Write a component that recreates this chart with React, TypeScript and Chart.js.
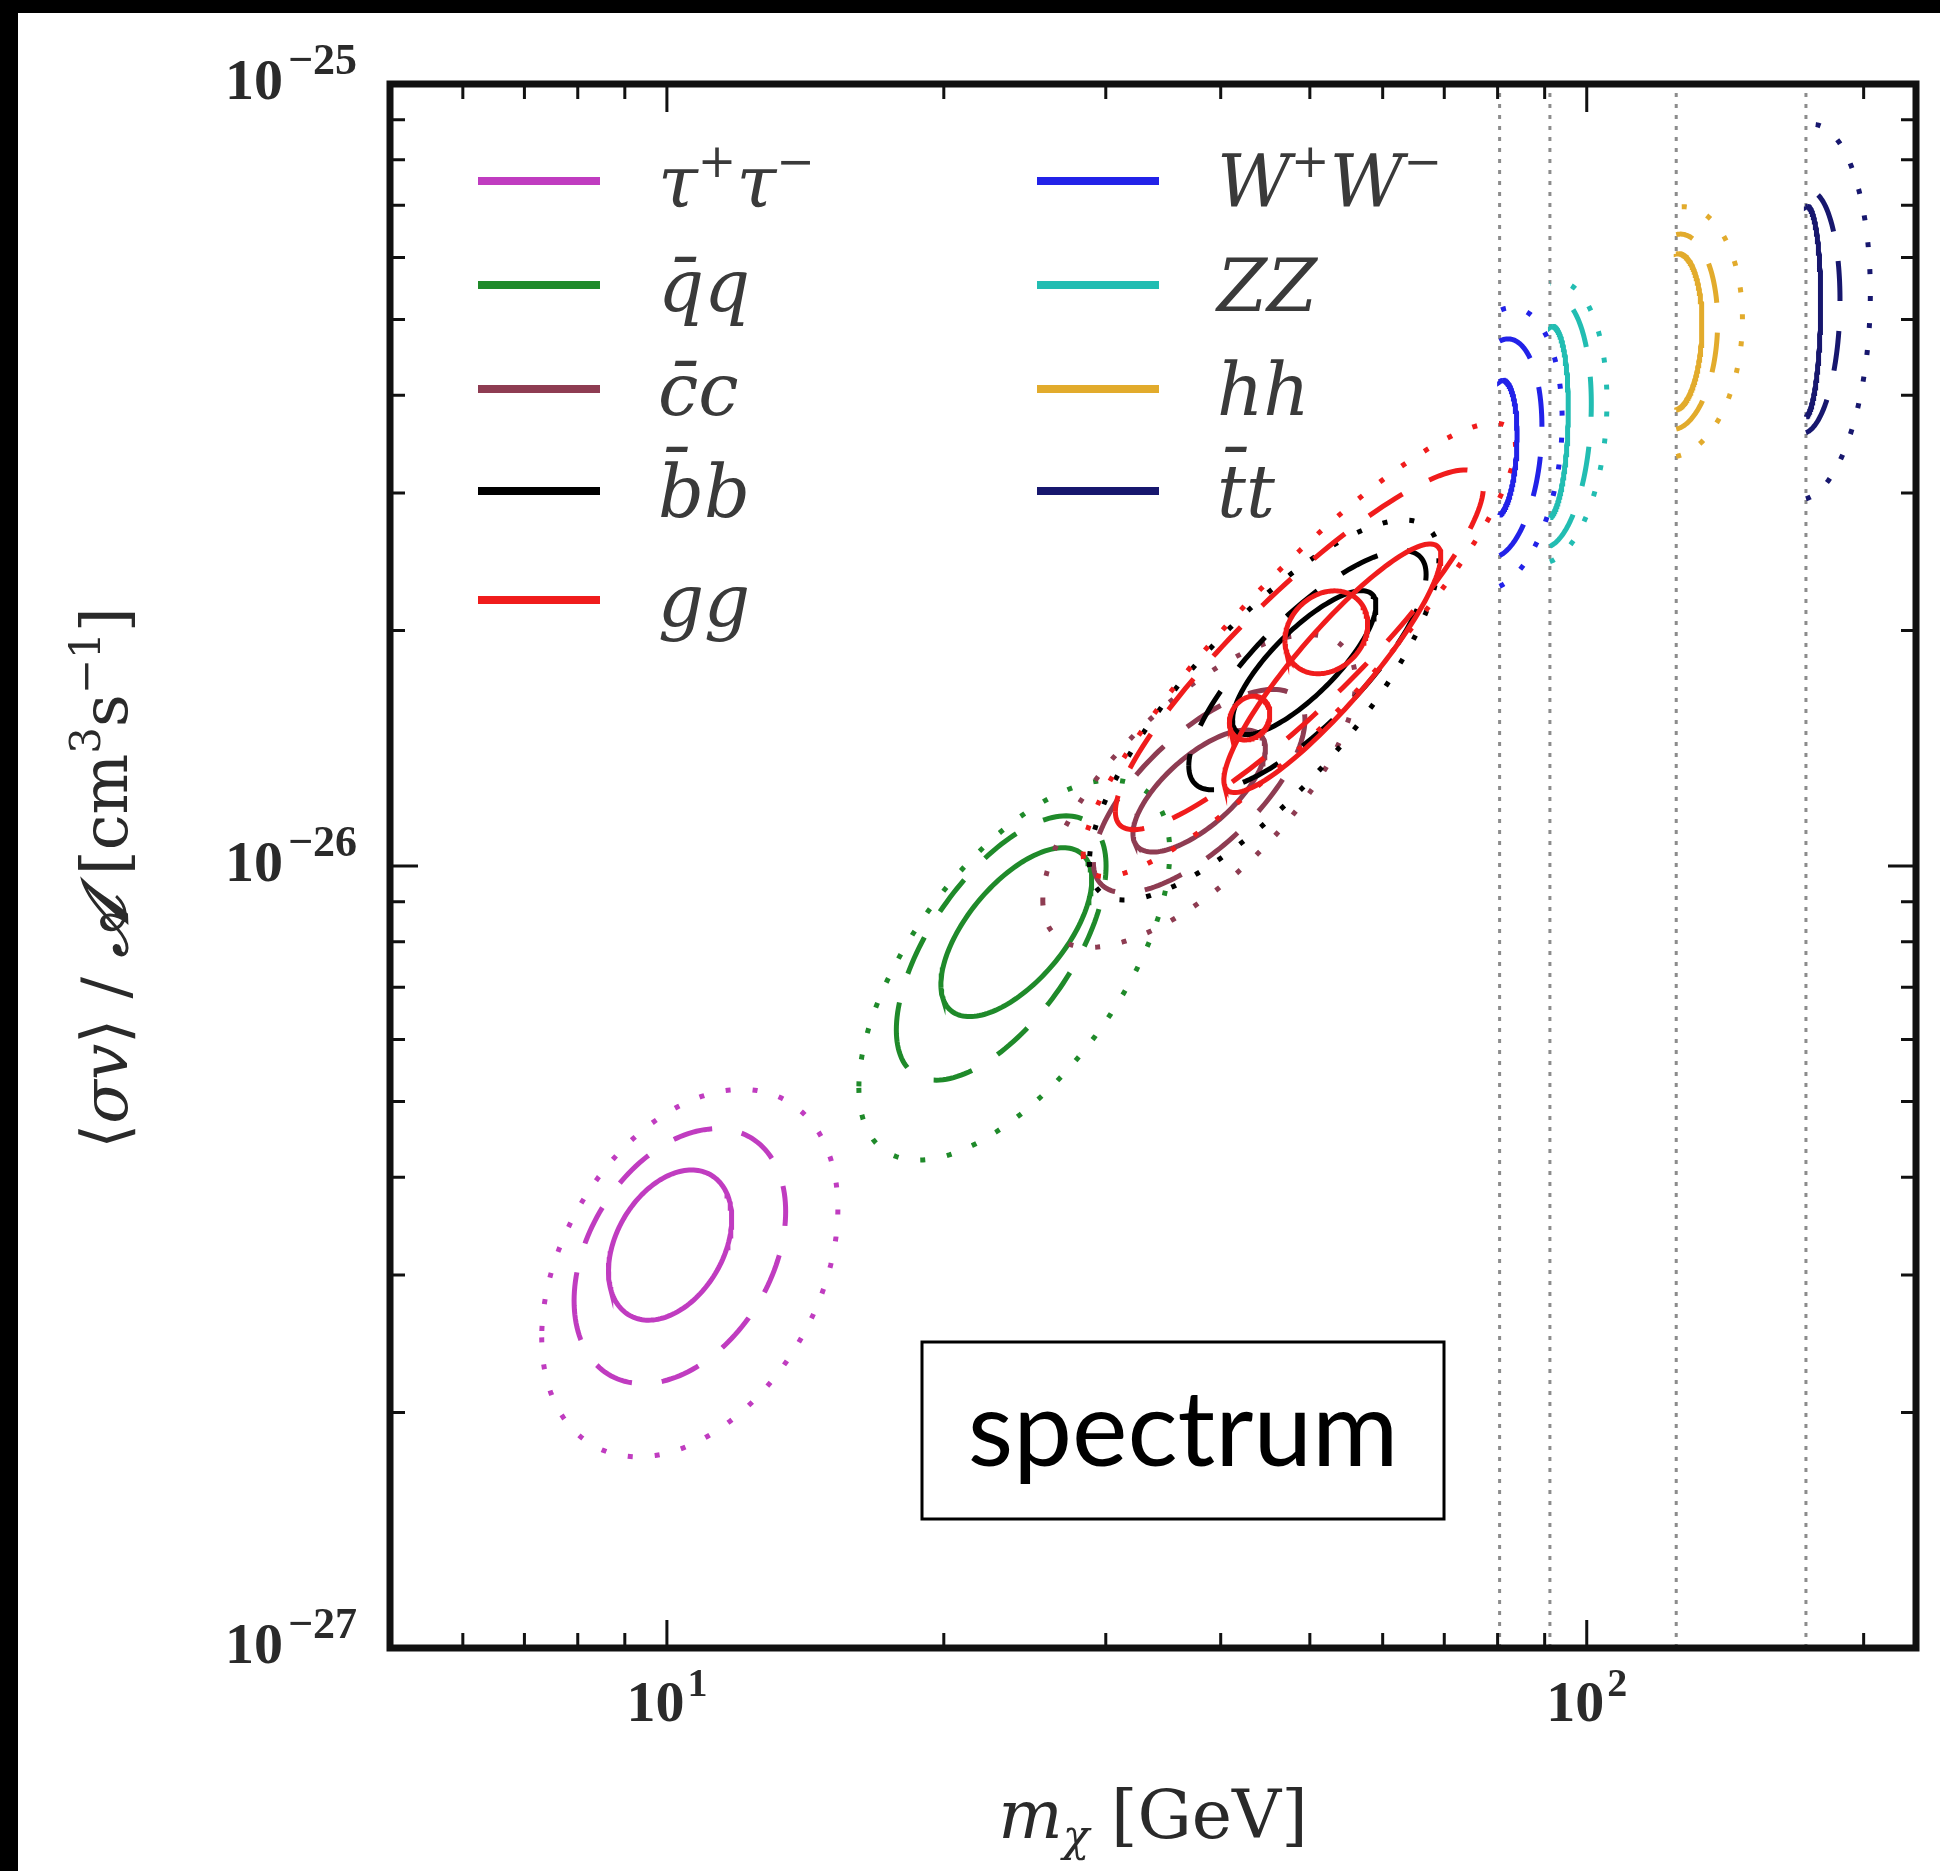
import React, { useEffect, useRef } from 'react';
import { Chart, registerables } from 'chart.js';

Chart.register(...registerables);

// ---------------- data ----------------
const channelLabels = ['τ⁺τ⁻', 'q\u0304q', 'c\u0304c', 'b\u0304b', 'gg', 'W⁺W⁻', 'ZZ', 'hh', 't\u0304t'];
const channelColors = ['#c03cc0', '#1f8a2a', '#8e3c52', '#000000', '#f01c1c', '#2222e8', '#22bdb2', '#e2ab2c', '#17176e'];
// kinematic threshold (GeV); 0 = none
const thresholdMass = [0, 0, 0, 0, 0, 80.4, 91.19, 125.1, 173.1];
// contour centres for the 1σ / 2σ / 3σ levels
const centerMass = [
  [10.08, 10.33, 10.59],
  [23.98, 23.09, 23.86],
  [37.9, 37.9, 37.9],
  [49.3, 49.7, 44.6],
  [52.9, 48.7, 48.7],
  [80.4, 80.4, 80.4],
  [91.19, 91.19, 91.19],
  [125.1, 125.1, 125.1],
  [173.1, 173.1, 173.1],
];
const centerSigmaV = [
  [3.275e-27, 3.17e-27, 3.016e-27],
  [8.23e-27, 7.855e-27, 7.36e-27],
  [1.247e-26, 1.247e-26, 1.247e-26],
  [1.82e-26, 1.78e-26, 1.583e-26],
  [1.79e-26, 1.89e-26, 1.89e-26],
  [3.42e-26, 3.42e-26, 3.42e-26],
  [3.69e-26, 3.69e-26, 3.69e-26],
  [4.82e-26, 4.82e-26, 4.82e-26],
  [5.11e-26, 5.11e-26, 5.11e-26],
];
// half extents of the 1σ / 2σ / 3σ contours (decades of mass, decades of <σv>)
const halfWidthDex = [
  [0.067, 0.115, 0.161],
  [0.082, 0.114, 0.169],
  [0.072, 0.115, 0.17],
  [0.078, 0.129, 0.19],
  [0.118, 0.2, 0.235],
  [0.019, 0.046, 0.068],
  [0.02, 0.045, 0.062],
  [0.028, 0.045, 0.072],
  [0.016, 0.037, 0.07],
];
const halfHeightDex = [
  [0.096, 0.163, 0.235],
  [0.108, 0.169, 0.243],
  [0.078, 0.13, 0.2],
  [0.092, 0.153, 0.243],
  [0.159, 0.23, 0.29],
  [0.087, 0.14, 0.18],
  [0.123, 0.16, 0.18],
  [0.1, 0.125, 0.16],
  [0.135, 0.155, 0.24],
];
const correlation = [0.35, 0.62, 0.7, 0.8, 0.9, 0.2, 0.15, 0.1, 0.1];
// extra small 1σ islands
const islandChannel = [4, 4];
const islandMass = [52.1, 43.0];
const islandSigmaV = [1.99e-26, 1.546e-26];
const islandHalfWidthDex = [0.045, 0.022];
const islandHalfHeightDex = [0.053, 0.028];

// axes
const xMin = 5;
const xMax = 228;
const yMin = 1e-27;
const yMax = 1e-25;
const xMajorTicks = [10, 100];
const xMajorExponents = ['1', '2'];
const xMinorTicks = [5, 6, 7, 8, 9, 20, 30, 40, 50, 60, 70, 80, 90, 200];
const yMajorTicks = [1e-27, 1e-26, 1e-25];
const yMajorExponents = ['−27', '−26', '−25'];
const yMinorTicks = [2e-27, 3e-27, 4e-27, 5e-27, 6e-27, 7e-27, 8e-27, 9e-27, 2e-26, 3e-26, 4e-26, 5e-26, 6e-26, 7e-26, 8e-26, 9e-26];

const levelDash = [[], [40, 30], [5, 22]];

// -------------- helpers --------------
function ellipsePoints(cm: number, cs: number, dx: number, dy: number, r: number, thr: number) {
  const cx = Math.log10(cm);
  const cy = Math.log10(cs);
  const s = Math.sqrt(1 - r * r);
  let t0 = -Math.PI;
  let t1 = Math.PI;
  if (thr > 0) {
    const c = (Math.log10(thr) - cx) / dx;
    if (c > -1) {
      const tc = Math.acos(Math.min(1, c));
      t0 = -tc;
      t1 = tc;
    }
  }
  const n = 160;
  const pts: { x: number; y: number }[] = [];
  for (let k = 0; k <= n; k++) {
    const t = t0 + ((t1 - t0) * k) / n;
    const lx = cx + dx * Math.cos(t);
    const ly = cy + dy * (r * Math.cos(t) + s * Math.sin(t));
    pts.push({ x: Math.pow(10, lx), y: Math.pow(10, ly) });
  }
  return pts;
}

type Seg = { text: string; font: string; dy: number; gap?: number };

function drawSegs(ctx: CanvasRenderingContext2D, segs: Seg[], x: number, y: number, align: string) {
  let total = 0;
  const widths = segs.map((s) => {
    ctx.font = s.font;
    const w = ctx.measureText(s.text).width + (s.gap || 0);
    total += w;
    return w;
  });
  let cx = align === 'center' ? x - total / 2 : align === 'right' ? x - total : x;
  ctx.textAlign = 'left';
  ctx.textBaseline = 'alphabetic';
  segs.forEach((s, i) => {
    ctx.font = s.font;
    ctx.fillText(s.text, cx + (s.gap || 0), y + s.dy);
    cx += widths[i];
  });
  return total;
}

const supMap: Record<string, string> = { '⁺': '+', '⁻': '−', '¹': '1', '²': '2', '³': '3' };

function labelSegs(label: string, baseFont: string, supFont: string, supDy: number): Seg[] {
  const segs: Seg[] = [];
  for (const ch of Array.from(label)) {
    const isSup = ch in supMap;
    const text = isSup ? supMap[ch] : ch;
    const font = isSup ? supFont : baseFont;
    const dy = isSup ? supDy : 0;
    const last = segs[segs.length - 1];
    if (last && last.font === font && last.dy === dy) last.text += text;
    else segs.push({ text, font, dy });
  }
  return segs;
}

const SERIF = '"DejaVu Serif", "Liberation Serif", serif';
const TICKFONT = '"Liberation Serif", "DejaVu Serif", serif';

const decorPlugin = {
  id: 'decor',
  afterDatasetsDraw(chart: any) {
    const ctx: CanvasRenderingContext2D = chart.ctx;
    const { left, right, top, bottom } = chart.chartArea;
    const xs = chart.scales.x;
    const ys = chart.scales.y;
    ctx.save();
    ctx.strokeStyle = '#111';
    const tick = (v: number, len: number, horiz: boolean, lw: number) => {
      ctx.lineWidth = lw;
      ctx.beginPath();
      if (horiz) {
        const p = xs.getPixelForValue(v);
        ctx.moveTo(p, bottom);
        ctx.lineTo(p, bottom - len);
        ctx.moveTo(p, top);
        ctx.lineTo(p, top + len);
      } else {
        const p = ys.getPixelForValue(v);
        ctx.moveTo(left, p);
        ctx.lineTo(left + len, p);
        ctx.moveTo(right, p);
        ctx.lineTo(right - len, p);
      }
      ctx.stroke();
    };
    xMinorTicks.forEach((v) => tick(v, 15, true, 3));
    xMajorTicks.forEach((v) => tick(v, 28, true, 3));
    yMinorTicks.forEach((v) => tick(v, 15, false, 3));
    yMajorTicks.forEach((v) => tick(v, 28, false, 3));
    ctx.lineWidth = 7;
    ctx.strokeRect(left, top, right - left, bottom - top);
    ctx.restore();
  },
  afterDraw(chart: any) {
    const ctx: CanvasRenderingContext2D = chart.ctx;
    const { left, right, top, bottom } = chart.chartArea;
    const xs = chart.scales.x;
    const ys = chart.scales.y;
    ctx.save();
    ctx.fillStyle = '#2a2a2a';
    // tick labels
    xMajorTicks.forEach((v, i) => {
      const p = xs.getPixelForValue(v);
      drawSegs(
        ctx,
        [
          { text: '10', font: `bold 58px ${TICKFONT}`, dy: 0 },
          { text: xMajorExponents[i], font: `bold 40px ${TICKFONT}`, dy: -25, gap: 3 },
        ],
        p,
        bottom + 73,
        'center'
      );
    });
    yMajorTicks.forEach((v, i) => {
      const p = ys.getPixelForValue(v);
      drawSegs(
        ctx,
        [
          { text: '10', font: `bold 58px ${TICKFONT}`, dy: 0 },
          { text: yMajorExponents[i], font: `bold 44px ${TICKFONT}`, dy: -25, gap: 5 },
        ],
        left - 33,
        p + 15,
        'right'
      );
    });
    // x title
    drawSegs(
      ctx,
      [
        { text: 'm', font: `italic 68px ${SERIF}`, dy: 0 },
        { text: 'χ', font: `italic 44px ${SERIF}`, dy: 13 },
        { text: ' [GeV]', font: `68px ${SERIF}`, dy: 0 },
      ],
      (left + right) / 2,
      bottom + 190,
      'center'
    );
    // y title (rotated)
    ctx.save();
    ctx.translate(87, (top + bottom) / 2 + 12);
    ctx.rotate(-Math.PI / 2);
    drawSegs(
      ctx,
      [
        { text: '⟨', font: `64px ${SERIF}`, dy: 0 },
        { text: 'σv', font: `italic 64px ${SERIF}`, dy: 0 },
        { text: '⟩ / ', font: `64px ${SERIF}`, dy: 0 },
        { text: '𝒜', font: `bold italic 64px ${SERIF}`, dy: 0 },
        { text: ' [cm', font: `64px ${SERIF}`, dy: 0 },
        { text: '3', font: `42px ${SERIF}`, dy: -27 },
        { text: 's', font: `64px ${SERIF}`, dy: 0 },
        { text: '−1', font: `42px ${SERIF}`, dy: -27 },
        { text: ']', font: `64px ${SERIF}`, dy: 0 },
      ],
      0,
      22,
      'center'
    );
    ctx.restore();

    // legend (two columns)
    const rowOffsets = [97, 201, 305, 407, 516];
    channelLabels.forEach((lab, i) => {
      const col = i < 5 ? 0 : 1;
      const row = i < 5 ? i : i - 5;
      const y = top + rowOffsets[row];
      const lx0 = col === 0 ? left + 88 : left + 647;
      ctx.strokeStyle = channelColors[i];
      ctx.lineWidth = 8;
      ctx.setLineDash([]);
      ctx.beginPath();
      ctx.moveTo(lx0, y);
      ctx.lineTo(lx0 + 122, y);
      ctx.stroke();
      ctx.fillStyle = '#3a3a3a';
      drawSegs(ctx, labelSegs(lab, `italic 72px ${SERIF}`, `46px ${SERIF}`, -30), lx0 + 180, y + 26, 'left');
    });

    // annotation box "spectrum"
    const bx0 = 904;
    const by0 = 1329;
    const bw = 522;
    const bh = 177;
    ctx.fillStyle = '#fff';
    ctx.fillRect(bx0, by0, bw, bh);
    ctx.strokeStyle = '#000';
    ctx.lineWidth = 3;
    ctx.strokeRect(bx0, by0, bw, bh);
    ctx.fillStyle = '#000';
    ctx.font = '104px Lato, "Open Sans", sans-serif';
    const w = ctx.measureText('spectrum').width;
    const fs = Math.round((104 * 429) / w);
    ctx.font = `${fs}px Lato, "Open Sans", sans-serif`;
    ctx.textAlign = 'center';
    ctx.textBaseline = 'alphabetic';
    ctx.fillText('spectrum', bx0 + bw / 2, 1453);
    ctx.restore();
  },
};

export default function App() {
  const ref = useRef<HTMLCanvasElement>(null);
  useEffect(() => {
    document.body.style.margin = '0';
    const datasets: any[] = [];
    thresholdMass.forEach((m) => {
      if (m > 0) {
        datasets.push({
          data: [
            { x: m, y: yMin },
            { x: m, y: yMax },
          ],
          borderColor: '#8c8c8c',
          borderWidth: 3,
          borderDash: [4, 7],
          showLine: true,
          pointRadius: 0,
          fill: false,
        });
      }
    });
    channelLabels.forEach((_, ci) => {
      for (let li = 2; li >= 0; li--) {
        datasets.push({
          label: channelLabels[ci],
          data: ellipsePoints(
            centerMass[ci][li],
            centerSigmaV[ci][li],
            halfWidthDex[ci][li],
            halfHeightDex[ci][li],
            correlation[ci],
            thresholdMass[ci]
          ),
          borderColor: channelColors[ci],
          borderWidth: 5,
          borderDash: levelDash[li],
          showLine: true,
          pointRadius: 0,
          fill: false,
          tension: 0,
        });
      }
      islandChannel.forEach((ch, k) => {
        if (ch !== ci) return;
        datasets.push({
          label: channelLabels[ci],
          data: ellipsePoints(islandMass[k], islandSigmaV[k], islandHalfWidthDex[k], islandHalfHeightDex[k], 0.2, 0),
          borderColor: channelColors[ci],
          borderWidth: 5,
          showLine: true,
          pointRadius: 0,
          fill: false,
        });
      });
    });
    const total = datasets.length;
    datasets.forEach((d, i) => (d.order = total - i));

    const chart = new Chart(ref.current as HTMLCanvasElement, {
      type: 'scatter',
      data: { datasets },
      options: {
        responsive: false,
        maintainAspectRatio: false,
        devicePixelRatio: 1,
        animation: false,
        layout: { padding: { left: 372, right: 24, top: 71, bottom: 223 } },
        plugins: { legend: { display: false }, tooltip: { enabled: false } },
        scales: {
          x: { type: 'logarithmic', min: xMin, max: xMax, display: false },
          y: { type: 'logarithmic', min: yMin, max: yMax, display: false },
        },
      },
      plugins: [decorPlugin],
    } as any);
    return () => chart.destroy();
  }, []);
  return (
    <div style={{ position: 'absolute', left: 0, top: 0, width: 1940, height: 1871, background: '#000' }}>
      <div style={{ position: 'absolute', left: 18, top: 13, width: 1922, height: 1858, background: '#fff' }}>
        <canvas ref={ref} width={1922} height={1858} style={{ width: 1922, height: 1858, display: 'block' }} />
      </div>
    </div>
  );
}
